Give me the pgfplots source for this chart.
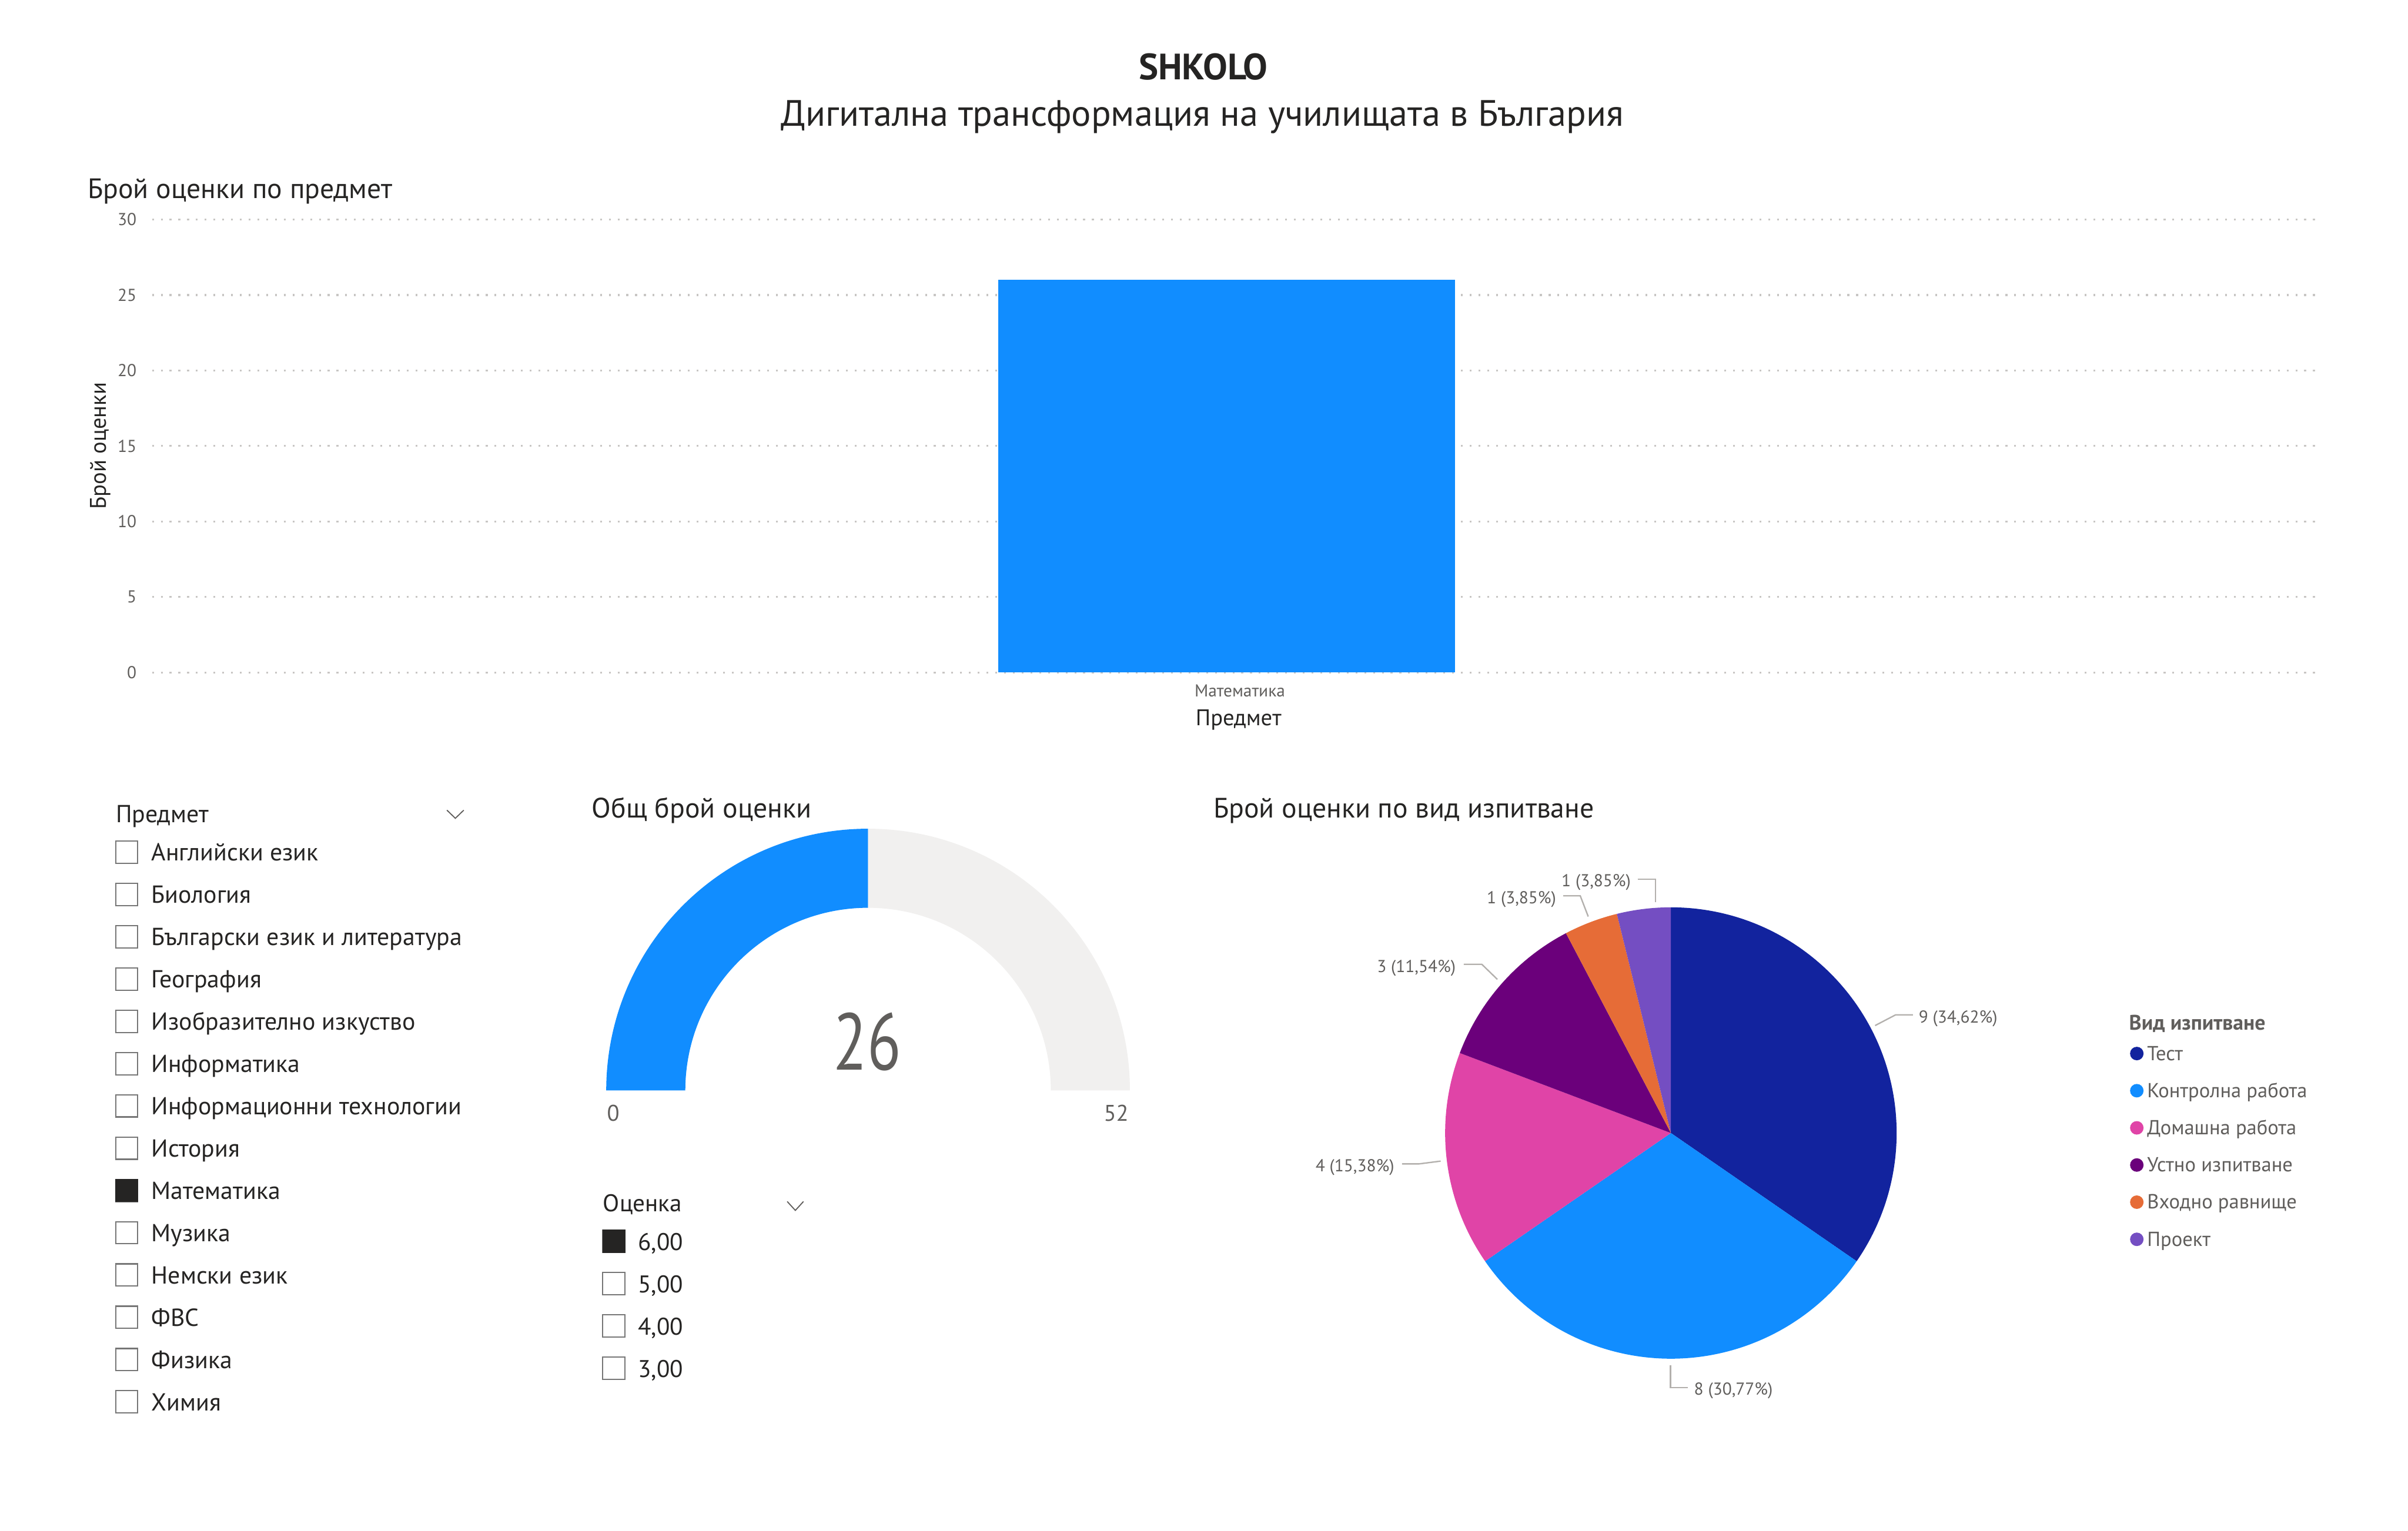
\documentclass[border=0pt]{standalone}
\usepackage{fontspec}
\setmainfont{PT Sans}
\usepackage{graphicx}
\usepackage{pgfplots}
\usepackage{pgfplotstable}
\pgfplotsset{compat=1.18}

\definecolor{pbBlue}{HTML}{118DFF}
\definecolor{pbNavy}{HTML}{12239E}
\definecolor{pbPink}{HTML}{E044A7}
\definecolor{pbPurple}{HTML}{6B007B}
\definecolor{pbOrange}{HTML}{E66C37}
\definecolor{pbViolet}{HTML}{744EC2}
\definecolor{pbDark}{HTML}{252423}
\definecolor{pbGray}{HTML}{605E5C}
\definecolor{pbLight}{HTML}{F1F0EF}
\definecolor{pbGrid}{HTML}{C8C6C4}
\definecolor{pbLeader}{HTML}{B3B0AD}
\definecolor{pbBox}{HTML}{767676}

\newcommand{\fs}[1]{\fontsize{#1}{#1}\selectfont}

\pgfplotstableread{
kind value
Test 9
Kontrolna 8
Domashna 4
Ustno 3
Vhodno 1
Proekt 1
}\piedata
\pgfplotstableread{
value max
26 52
}\gaugedata
\pgfplotstablegetelem{0}{value}\of\piedata \edef\vA{\pgfplotsretval}
\pgfplotstablegetelem{1}{value}\of\piedata \edef\vB{\pgfplotsretval}
\pgfplotstablegetelem{2}{value}\of\piedata \edef\vC{\pgfplotsretval}
\pgfplotstablegetelem{3}{value}\of\piedata \edef\vD{\pgfplotsretval}
\pgfplotstablegetelem{4}{value}\of\piedata \edef\vE{\pgfplotsretval}
\pgfplotstablegetelem{5}{value}\of\piedata \edef\vF{\pgfplotsretval}
\pgfmathsetmacro\tot{\vA+\vB+\vC+\vD+\vE+\vF}
\pgfmathsetmacro\aA{90}
\pgfmathsetmacro\aB{\aA-360*\vA/\tot}
\pgfmathsetmacro\aC{\aB-360*\vB/\tot}
\pgfmathsetmacro\aD{\aC-360*\vC/\tot}
\pgfmathsetmacro\aE{\aD-360*\vD/\tot}
\pgfmathsetmacro\aF{\aE-360*\vE/\tot}
\pgfmathsetmacro\aG{\aF-360*\vF/\tot}
\pgfplotstablegetelem{0}{value}\of\gaugedata \edef\gVal{\pgfplotsretval}
\pgfplotstablegetelem{0}{max}\of\gaugedata \edef\gMax{\pgfplotsretval}
\pgfmathsetmacro\gEnd{180-180*\gVal/\gMax}
\pgfmathsetmacro\gIn{119/170.5}

\begin{document}%
\begin{tikzpicture}
\useasboundingbox (0,0) rectangle (784mm,498.5mm);
\begin{scope}[x=0.5mm,y=0.5mm]
\fill[white] (0,0) rectangle (1568,997);

% ---------- header
\node[anchor=base, inner sep=0, font=\fs{34pt}\bfseries, text=pbDark] at (783.5,945.2) {SHKOLO};
\node[anchor=base, inner sep=0, font=\fs{34pt}, text=pbDark] at (783,914.8) {Дигитална трансформация на училищата в България};

% ---------- titles
\node[anchor=base west, inner sep=0, font=\fs{26pt}, text=pbDark] at (57,867.8) {Брой оценки по предмет};
\node[anchor=base west, inner sep=0, font=\fs{26pt}, text=pbDark] at (385.3,464.3) {Общ брой оценки};
\node[anchor=base west, inner sep=0, font=\fs{26pt}, text=pbDark] at (790,464.3) {Брой оценки по вид изпитване};

% ---------- slicer: Предмет
\node[anchor=base west, inner sep=0, font=\fs{22.8pt}, text=pbDark] at (75.4,461.4) {Предмет};
\draw[pbGray, line width=0.35mm] (291,469.3) -- (296.5,464) -- (302,469.3);
\foreach \name [count=\i from 0] in {Английски език,Биология,Български език и литература,География,Изобразително изкуство,Информатика,Информационни технологии,История,Математика,Музика,Немски език,ФВС,Физика,Химия}{
  \pgfmathsetmacro\cy{442-27.55*\i}
  \draw[pbBox, line width=0.4mm] (75.25,{\cy-7.25}) rectangle (89.75,{\cy+7.25});
  \node[anchor=base west, inner sep=0, font=\fs{22.8pt}, text=pbDark] at (98.5,{\cy-5.8}) {\ignorespaces\name};
}
\fill[pbDark] (75.0,{442-27.55*8-7.5}) rectangle (90.0,{442-27.55*8+7.5});

% ---------- gauge texts
\node[inner sep=0, text=pbGray] at (564.7,318.4) {\resizebox{22mm}{18.65mm}{26}};
\node[inner sep=0, font=\fs{21pt}, text=pbGray] at (399.3,272) {0};
\node[anchor=east, inner sep=0, font=\fs{21pt}, text=pbGray] at (735,272) {52};

% ---------- slicer: Оценка
\node[anchor=base west, inner sep=0, font=\fs{22.4pt}, text=pbDark] at (392.6,208) {Оценка};
\draw[pbGray, line width=0.35mm] (512.6,214.4) -- (517.9,208.6) -- (523.2,214.4);
\foreach \i/\name in {0/{6,00},1/{5,00},2/{4,00},3/{3,00}}{
  \pgfmathsetmacro\cy{188.5-27.6*\i}
  \draw[pbBox, line width=0.4mm] (392.5,{\cy-7.25}) rectangle (407,{\cy+7.25});
  \node[anchor=base west, inner sep=0, font=\fs{22.4pt}, text=pbDark] at (415.4,{\cy-5.8}) {\name};
}
\fill[pbDark] (392.25,{188.5-7.5}) rectangle (407.25,{188.5+7.5});

% ---------- pie legend title
\node[anchor=base west, inner sep=0, font=\fs{19.5pt}\bfseries, text=pbGray] at (1386.3,326.1) {Вид изпитване};
\end{scope}

% ---------- bar chart
\begin{axis}[
  at={(49.5mm,279.5mm)}, anchor=south west, scale only axis,
  width=705.5mm, height=147.5mm,
  xmin=0, xmax=1, ymin=0, ymax=30,
  ytick={0,5,...,30}, xtick={0.502}, xticklabels={Математика},
  axis line style={draw=none}, major tick length=0pt,
  ymajorgrids, major grid style={pbGrid, line width=0.6mm, dash pattern=on 0.6mm off 2.26mm},
  /pgf/number format/assume math mode=true,
  yticklabel style={font=\fs{16pt}, text=pbGray, inner sep=0pt, anchor=east, xshift=-5mm},
  xticklabel style={font=\fs{16pt}, text=pbGray, inner sep=0pt, anchor=base, yshift=-7.85mm},
  ylabel={Брой оценки},
  ylabel style={font=\fs{21pt}, text=pbDark, inner sep=0pt, at={(axis description cs:-0.02126,0.5)}, anchor=base},
  xlabel={Предмет},
  xlabel style={font=\fs{21pt}, text=pbDark, inner sep=0pt, at={(axis description cs:0.5014,-0.117)}, anchor=base},
  clip=false,
]
\addplot[ybar, bar width=0.21091, fill=pbBlue, draw=none] coordinates {(0.49596,26)};
\end{axis}

% ---------- gauge
\begin{axis}[
  at={(197.375mm,143.35mm)}, anchor=south west, scale only axis,
  width=170.5mm, height=85.25mm,
  xmin=-1, xmax=1, ymin=0, ymax=1, hide axis, clip=false,
]
\fill[pbBlue] (axis cs:-1,0) arc[start angle=180, end angle=\gEnd, radius=85.25mm]
   -- (axis cs:{\gIn*cos(\gEnd)},{\gIn*sin(\gEnd)}) arc[start angle=\gEnd, end angle=180, radius=59.5mm] -- cycle;
\fill[pbLight] (axis cs:{cos(\gEnd)},{sin(\gEnd)}) arc[start angle=\gEnd, end angle=0, radius=85.25mm]
   -- (axis cs:\gIn,0) arc[start angle=0, end angle=\gEnd, radius=59.5mm] -- cycle;
\end{axis}

% ---------- pie
\begin{axis}[
  at={(470.5mm,56mm)}, anchor=south west, scale only axis,
  width=147mm, height=147mm,
  xmin=-1, xmax=1, ymin=-1, ymax=1, hide axis, clip=false,
  legend image code/.code={\fill[#1] (0mm,2.2mm) circle[radius=2.2mm];},
  legend cell align=left,
  legend style={at={(1.517,0.6917)}, anchor=north west, draw=none, fill=none,
    inner sep=0pt, outer sep=0pt, row sep=6.1mm, column sep=1.2mm,
    font=\fs{18.8pt},
    nodes={inner sep=0pt, anchor=base west, text=pbGray, text height=4.5mm, text depth=1.5mm}},
]
\fill[pbNavy]   (axis cs:0,0) -- (axis cs:{cos(\aA)},{sin(\aA)}) arc[start angle=\aA, end angle=\aB, radius=73.5mm] -- cycle;
\fill[pbBlue]   (axis cs:0,0) -- (axis cs:{cos(\aB)},{sin(\aB)}) arc[start angle=\aB, end angle=\aC, radius=73.5mm] -- cycle;
\fill[pbPink]   (axis cs:0,0) -- (axis cs:{cos(\aC)},{sin(\aC)}) arc[start angle=\aC, end angle=\aD, radius=73.5mm] -- cycle;
\fill[pbPurple] (axis cs:0,0) -- (axis cs:{cos(\aD)},{sin(\aD)}) arc[start angle=\aD, end angle=\aE, radius=73.5mm] -- cycle;
\fill[pbOrange] (axis cs:0,0) -- (axis cs:{cos(\aE)},{sin(\aE)}) arc[start angle=\aE, end angle=\aF, radius=73.5mm] -- cycle;
\fill[pbViolet] (axis cs:0,0) -- (axis cs:{cos(\aF)},{sin(\aF)}) arc[start angle=\aF, end angle=\aG, radius=73.5mm] -- cycle;
\addlegendimage{fill=pbNavy, draw=none}\addlegendentry{Тест}
\addlegendimage{fill=pbBlue, draw=none}\addlegendentry{Контролна работа}
\addlegendimage{fill=pbPink, draw=none}\addlegendentry{Домашна работа}
\addlegendimage{fill=pbPurple, draw=none}\addlegendentry{Устно изпитване}
\addlegendimage{fill=pbOrange, draw=none}\addlegendentry{Входно равнище}
\addlegendimage{fill=pbViolet, draw=none}\addlegendentry{Проект}
\end{axis}

% ---------- pie data labels and leader lines
\begin{scope}[x=0.5mm,y=0.5mm]
\begin{scope}[pbLeader, line width=0.45mm]
\draw (1221,329) -- (1234.4,336) -- (1245.6,336);
\draw (1066.4,424.4) -- (1078.1,424.4) -- (1078.1,409.3);
\draw (1017.9,413.5) -- (1029,413.5) -- (1034.2,400);
\draw (953.2,368.9) -- (964.9,368.9) -- (975,359.1);
\draw (913,238.9) -- (924.1,238.9) -- (938.1,240.7);
\draw (1087.7,107.9) -- (1087.7,93.2) -- (1099,93.2);
\end{scope}
\begin{scope}[every node/.style={inner sep=0, font=\fs{16pt}, text=pbGray}]
\node[anchor=base west] at (1249.3,330.7) {9 (34,62\%)};
\node[anchor=base east] at (1062,419.5) {1 (3,85\%)};
\node[anchor=base east] at (1013.4,408.6) {1 (3,85\%)};
\node[anchor=base east] at (948,363.5) {3 (11,54\%)};
\node[anchor=base east] at (908,233.8) {4 (15,38\%)};
\node[anchor=base west] at (1103,88.3) {8 (30,77\%)};
\end{scope}
\end{scope}
\end{tikzpicture}%
\end{document}
